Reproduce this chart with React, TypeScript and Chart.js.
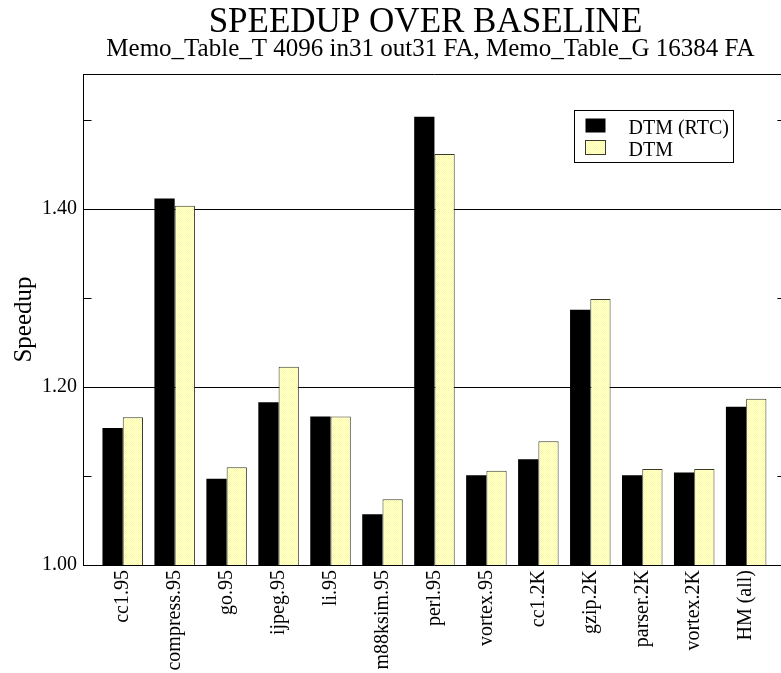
import React, { useEffect, useRef } from 'react';
import { Chart, registerables } from 'chart.js';

Chart.register(...registerables);

const categories = [
  'cc1.95', 'compress.95', 'go.95', 'ijpeg.95', 'li.95', 'm88ksim.95', 'perl.95',
  'vortex.95', 'cc1.2K', 'gzip.2K', 'parser.2K', 'vortex.2K', 'HM (all)',
];
const rtcSpeedup = [1.154, 1.412, 1.097, 1.183, 1.167, 1.057, 1.504, 1.101, 1.119, 1.287, 1.101, 1.104, 1.178];
const dtmSpeedup = [1.166, 1.404, 1.110, 1.223, 1.167, 1.074, 1.462, 1.106, 1.139, 1.299, 1.108, 1.108, 1.187];
const seriesLabels = ['DTM (RTC)', 'DTM'];
const yTickValues = [1.0, 1.1, 1.2, 1.3, 1.4, 1.5];
const yLabeledValues = [1.0, 1.2, 1.4];
const yGridValues = [1.2, 1.4];
const titleText = 'SPEEDUP OVER BASELINE';
const subtitleText = 'Memo_Table_T 4096 in31 out31 FA, Memo_Table_G 16384 FA';
const yAxisTitle = 'Speedup';

const FONT = "'Liberation Serif', 'Times New Roman', Times, serif";
const near = (a: number, b: number) => Math.abs(a - b) < 1e-6;

function makePattern(): CanvasPattern | string {
  const c = document.createElement('canvas');
  c.width = 2;
  c.height = 2;
  const g = c.getContext('2d');
  if (!g) return '#ffffc0';
  g.fillStyle = '#ffffff';
  g.fillRect(0, 0, 2, 2);
  g.fillStyle = '#ffff7a';
  g.fillRect(0, 0, 1, 1);
  g.fillRect(1, 1, 1, 1);
  return g.createPattern(c, 'repeat') || '#ffffc0';
}

const decorPlugin = {
  id: 'decor',
  afterDraw(chart: any) {
    const { ctx, chartArea: a, scales } = chart;
    const y = scales.y;
    ctx.save();
    ctx.strokeStyle = '#000';
    ctx.lineWidth = 1;
    ctx.beginPath();
    ctx.moveTo(a.left, a.top + 0.5);
    ctx.lineTo(a.right, a.top + 0.5);
    ctx.moveTo(a.right - 0.5, a.top);
    ctx.lineTo(a.right - 0.5, a.bottom);
    for (const v of yTickValues) {
      const py = Math.round(y.getPixelForValue(v)) + 0.5;
      ctx.moveTo(a.left, py);
      ctx.lineTo(a.left + 8, py);
      ctx.moveTo(a.right - 8, py);
      ctx.lineTo(a.right, py);
    }
    ctx.stroke();

    // titles
    ctx.fillStyle = '#000';
    ctx.textAlign = 'center';
    ctx.textBaseline = 'alphabetic';
    const cx = (a.left + a.right) / 2;
    ctx.font = `35px ${FONT}`;
    ctx.fillText(titleText, cx - 9, 32);
    ctx.font = `25px ${FONT}`;
    ctx.fillText(subtitleText, cx - 4, 56);

    // legend
    const ds = chart.data.datasets;
    const bx = Math.round(a.right - 211) + 0.5;
    const by = Math.round(a.top + 36) + 0.5;
    ctx.lineWidth = 1;
    ctx.strokeStyle = '#000';
    ctx.fillStyle = '#fff';
    ctx.fillRect(bx, by, 159, 52);
    ctx.strokeRect(bx, by, 159, 52);
    ctx.font = `20px ${FONT}`;
    ctx.textAlign = 'left';
    ds.forEach((d: any, i: number) => {
      const sy = by + 8 + i * 22;
      ctx.fillStyle = d.backgroundColor;
      ctx.fillRect(bx + 11, sy, 20, 14);
      if (d.borderWidth) {
        ctx.strokeStyle = d.borderColor;
        ctx.strokeRect(bx + 11, sy, 20, 14);
      }
      ctx.fillStyle = '#000';
      ctx.fillText(d.label, bx + 54, sy + 15);
    });
    ctx.restore();
  },
};

export default function App() {
  const canvasRef = useRef<HTMLCanvasElement | null>(null);

  useEffect(() => {
    const canvas = canvasRef.current;
    if (!canvas) return;
    const pattern = makePattern();
    const chart = new Chart(canvas, {
      type: 'bar',
      data: {
        datasets: [
          {
            label: seriesLabels[0],
            data: rtcSpeedup.map((v, i) => ({ x: i, y: v })),
            backgroundColor: '#000',
            borderWidth: 0,
            categoryPercentage: 0.78,
            barPercentage: 1.0,
          },
          {
            label: seriesLabels[1],
            data: dtmSpeedup.map((v, i) => ({ x: i, y: v })),
            backgroundColor: pattern as any,
            borderColor: '#3a3a2a',
            borderWidth: 1,
            categoryPercentage: 0.78,
            barPercentage: 1.0,
          },
        ],
      } as any,
      options: {
        responsive: false,
        animation: false,
        devicePixelRatio: 1,
        layout: { padding: { top: 74, right: 2.6, left: 0, bottom: 0 } },
        plugins: {
          legend: { display: false },
          tooltip: { enabled: false },
          title: { display: false },
        },
        scales: {
          x: {
            type: 'linear',
            min: -0.755,
            max: 12.755,
            bounds: 'data',
            offset: false,
            afterBuildTicks: (s: any) => {
              s.ticks = categories.map((_, i) => ({ value: i }));
            },
            afterFit: (s: any) => {
              s.height = 108;
            },
            ticks: {
              callback: (v: any) => categories[Math.round(Number(v))] ?? '',
              autoSkip: false,
              minRotation: 90,
              maxRotation: 90,
              padding: 5,
              color: '#000',
              font: { family: FONT, size: 20 },
            },
            grid: { display: false, drawTicks: false },
            border: { display: true, color: '#000', width: 1 },
          },
          y: {
            type: 'linear',
            min: 1.0,
            max: 1.552,
            bounds: 'data',
            afterBuildTicks: (s: any) => {
              s.ticks = yTickValues.map((v) => ({ value: v }));
            },
            afterFit: (s: any) => {
              s.width = 83.5;
            },
            ticks: {
              callback: (v: any) =>
                yLabeledValues.some((l) => near(l, Number(v))) ? Number(v).toFixed(2) : '',
              padding: 6.5,
              color: '#000',
              font: { family: FONT, size: 20 },
            },
            grid: {
              drawTicks: false,
              lineWidth: 1,
              color: (c: any) =>
                c.tick && yGridValues.some((g) => near(g, c.tick.value)) ? '#000' : 'rgba(0,0,0,0)',
            },
            border: { display: true, color: '#000', width: 1 },
            title: {
              display: true,
              text: yAxisTitle,
              color: '#000',
              font: { family: FONT, size: 25 },
              padding: { top: 9, bottom: 0 },
            },
          },
        },
      } as any,
      plugins: [decorPlugin],
    });
    return () => chart.destroy();
  }, []);

  return (
    <div
      style={{
        position: 'absolute',
        left: 0,
        top: 0,
        width: 781,
        height: 673,
        overflow: 'hidden',
        background: '#fff',
      }}
    >
      <canvas ref={canvasRef} width={788} height={673} style={{ width: 788, height: 673, display: 'block' }} />
    </div>
  );
}
